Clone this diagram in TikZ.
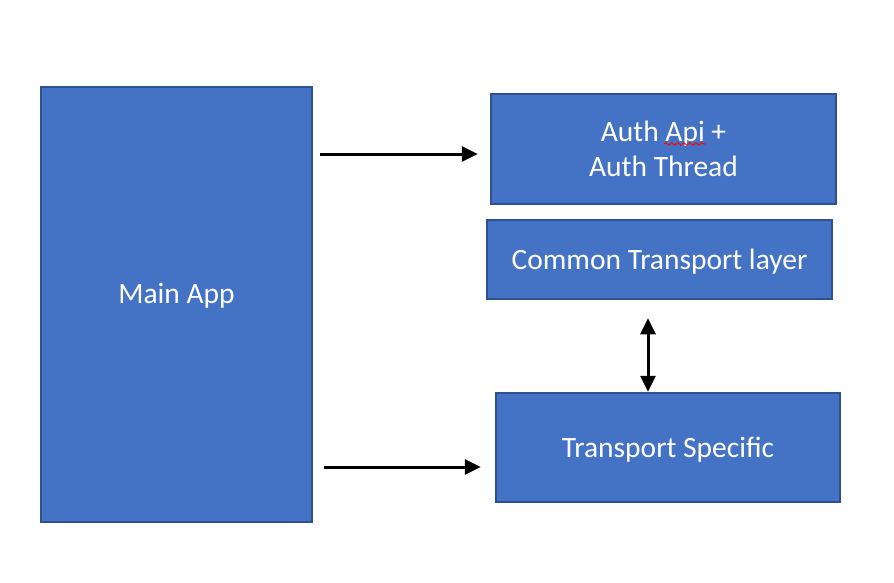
\documentclass[tikz,border=0pt]{standalone}
\usepackage{fontspec}
\setmainfont{Carlito}
\usetikzlibrary{arrows.meta,decorations.pathmorphing}
\definecolor{boxfill}{HTML}{4472C4}
\definecolor{boxline}{HTML}{2F528F}
\begin{document}
\begin{tikzpicture}[x=1pt,y=-1pt,
  blk/.style={draw=boxline,line width=2.5pt,fill=boxfill,text=white,
    font=\fontsize{29.5}{35}\selectfont,align=center,inner sep=0pt},
  conn/.style={line width=3pt,-{Triangle[length=16pt,width=15pt]}},
  biconn/.style={line width=3pt,{Triangle[length=16pt,width=15pt]}-{Triangle[length=16pt,width=15pt]}}]
\useasboundingbox[fill=white] (0,0) rectangle (894,582);
\node[blk,minimum width=271pt,minimum height=435pt] (main) at (176.5,304.5) {};
\node[text=white,font=\fontsize{29.5}{35}\selectfont] (maintxt) at (176.5,296) {Main App};
\node[blk,minimum width=345pt,minimum height=110pt] (auth) at (663.5,149) {Auth Api +\\Auth Thread};
\node[blk,minimum width=345pt,minimum height=79pt,text depth=0pt] (common) at (659.5,259.5) {Common Transport layer};
\node[blk,minimum width=344pt,minimum height=109pt,text depth=0pt] (ts) at (668,447.5) {Transport Specific};
\draw[red,line width=0.9pt,decorate,decoration={snake,amplitude=1.3pt,segment length=6pt}]
  (664,144) -- (706,144);
\coordinate (a1) at (main.east |- 0,154);
\coordinate (a2) at (auth.west |- 0,154);
\draw[conn,shorten <=7pt,shorten >=12pt] (a1) -- (a2);
\coordinate (b1) at (main.east |- 0,467);
\coordinate (b2) at (ts.west |- 0,467);
\draw[conn,shorten <=11pt,shorten >=14pt] (b1) -- (b2);
\coordinate (c1) at (648,0 |- common.south);
\coordinate (c2) at (648,0 |- ts.north);
\draw[biconn,shorten <=18pt,shorten >=0pt] (c1) -- (c2);
\end{tikzpicture}
\end{document}
